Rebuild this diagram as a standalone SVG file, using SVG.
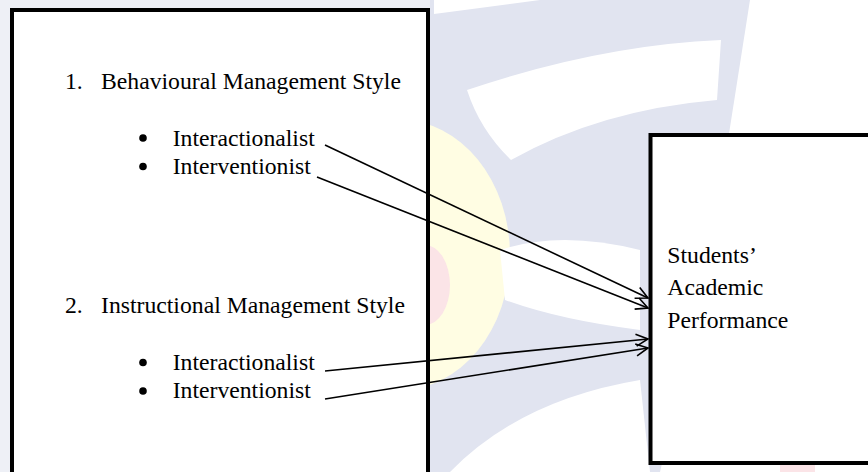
<svg xmlns="http://www.w3.org/2000/svg" width="868" height="472" viewBox="0 0 868 472">
  <defs>
    <style>
      .box { fill: #ffffff; stroke: #000000; stroke-width: 4; }
      .t { font-family: "Liberation Serif", "Times New Roman", serif; font-size: 23.7px; fill: #000000; }
      .bullet { fill: #000000; }
      .conn { stroke: #000000; stroke-width: 1.6; fill: none; marker-end: url(#arrow); }
      .wm-blue { fill: #e1e4f0; }
      .wm-light { fill: #eef0f6; }
      .wm-yellow { fill: #fffde3; }
      .wm-pink { fill: #fbe4e7; }
      .wm-white { fill: #ffffff; }
    </style>
    <marker id="arrow" viewBox="0 0 14 14" refX="13" refY="7" markerWidth="14" markerHeight="14" markerUnits="userSpaceOnUse" orient="auto">
      <path d="M1,1 L13,7 L1,13" fill="none" stroke="#000000" stroke-width="1.6"/>
    </marker>
  </defs>

  <rect x="0" y="0" width="868" height="472" fill="#ffffff"/>

  <!-- faint watermark -->
  <g id="watermark">
    <path class="wm-light" d="M 0 0 L 434 0 L 434 472 L 0 472 Z"/>
    <path class="wm-blue" d="M 430 0 L 750 0 L 728 140 L 700 300 L 660 472 L 430 472 Z"/>
    <path class="wm-white" d="M 434 0 L 540 0 Q 480 8 434 14 Z"/>
    <path class="wm-white" d="M 467 90 Q 600 45 721 40 L 717 100 Q 600 110 511 160 Q 480 130 467 90 Z"/>
    <ellipse class="wm-yellow" cx="400" cy="255" rx="110" ry="135"/>
    <ellipse class="wm-pink" cx="425" cy="285" rx="25" ry="40"/>
    <path class="wm-white" d="M 500 250 Q 560 230 640 250 L 640 330 Q 560 320 505 300 Z"/>
    <path class="wm-white" d="M 450 472 Q 520 400 640 380 L 650 472 Z"/>
    <rect class="wm-pink" x="780" y="465" width="35" height="7"/>
  </g>

  <g id="node-styles">
    <rect class="box" x="12" y="10" width="416" height="475"/>
    <text class="t" x="65" y="89">1.</text>
    <text class="t" x="101" y="89">Behavioural Management Style</text>
    <circle class="bullet" cx="143" cy="138" r="3.8"/>
    <text class="t" x="172.7" y="145.7">Interactionalist</text>
    <circle class="bullet" cx="143" cy="166.5" r="3.8"/>
    <text class="t" x="172.7" y="174">Interventionist</text>
    <text class="t" x="65" y="313.3">2.</text>
    <text class="t" x="101" y="313.3">Instructional Management Style</text>
    <circle class="bullet" cx="143" cy="362.5" r="3.8"/>
    <text class="t" x="172.7" y="370">Interactionalist</text>
    <circle class="bullet" cx="143" cy="391" r="3.8"/>
    <text class="t" x="172.7" y="398.3">Interventionist</text>
  </g>

  <g id="node-performance">
    <rect class="box" x="650.5" y="135" width="240" height="328"/>
    <text class="t" x="667.3" y="263.3">Students’</text>
    <text class="t" x="667.3" y="295.3">Academic</text>
    <text class="t" x="667.3" y="327.7">Performance</text>
  </g>

  <g id="connectors">
    <line class="conn" x1="325" y1="145" x2="648" y2="298"/>
    <line class="conn" x1="317" y1="177" x2="648" y2="308"/>
    <line class="conn" x1="325" y1="371" x2="648" y2="339"/>
    <line class="conn" x1="325" y1="399" x2="648" y2="348"/>
  </g>
</svg>
